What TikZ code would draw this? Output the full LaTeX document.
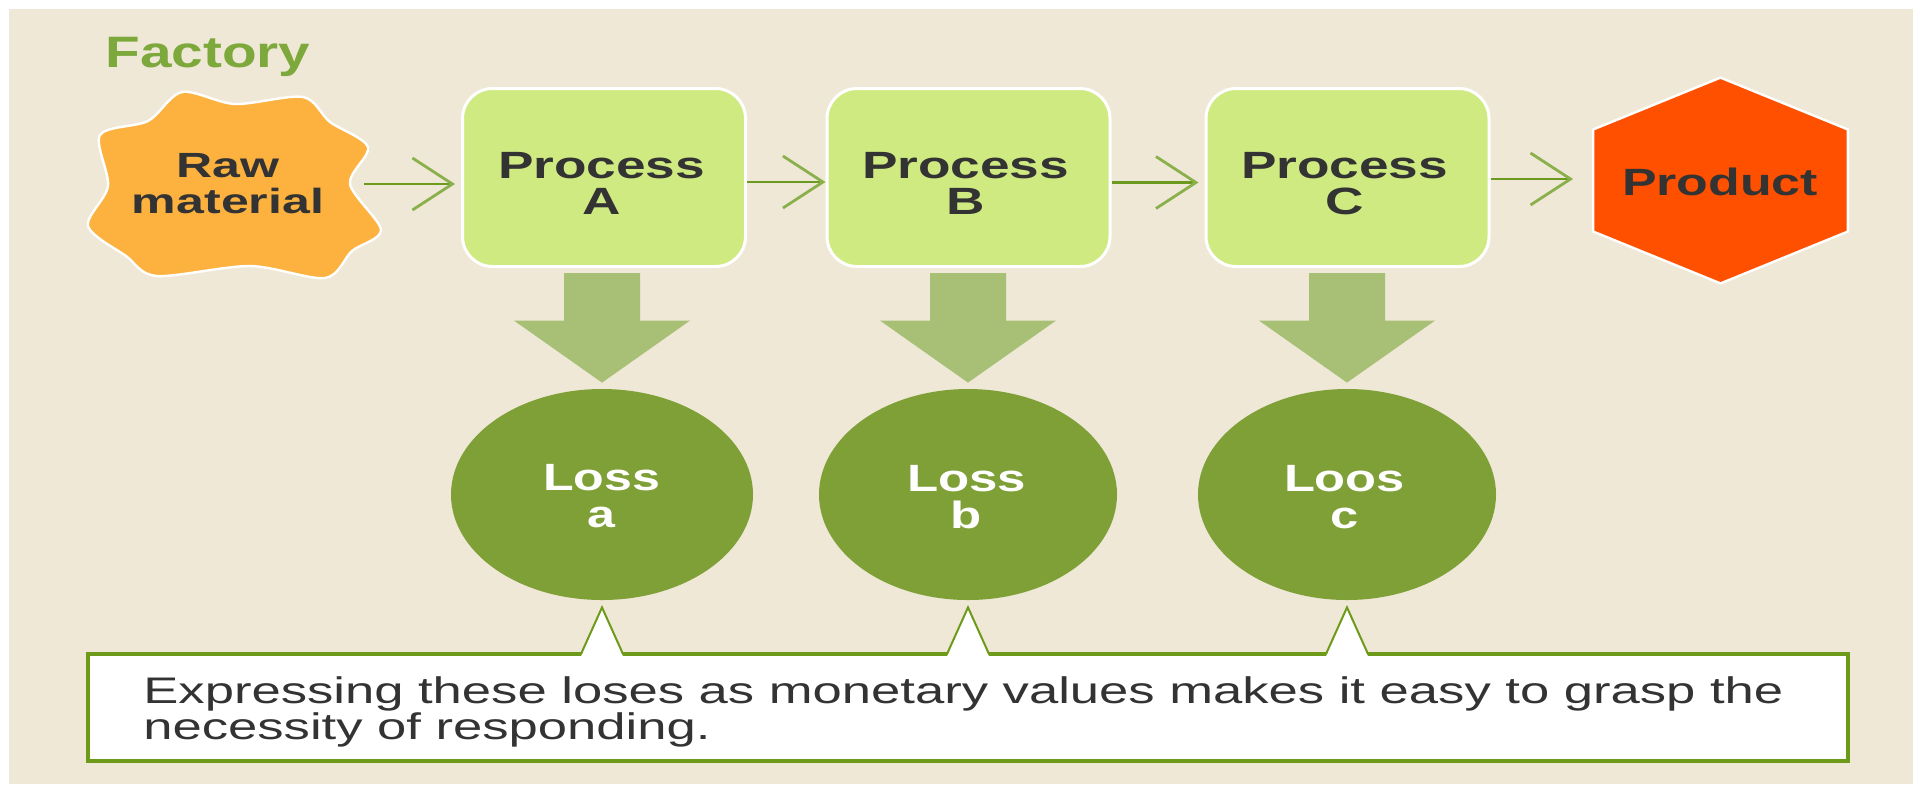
\documentclass[tikz,border=0pt]{standalone}
\usepackage{fontspec}
\setmainfont{Liberation Sans}
\usepackage{graphicx}
\usetikzlibrary{shapes.geometric,arrows.meta,calc}
\definecolor{bg}{HTML}{F0E8D6}
\definecolor{procfill}{HTML}{D0EA82}
\definecolor{shaftc}{HTML}{6B9A1E}
\definecolor{headc}{HTML}{8AB04C}
\definecolor{blockc}{HTML}{A8BF76}
\definecolor{lossfill}{HTML}{7EA037}
\definecolor{prodc}{HTML}{FF5000}
\definecolor{rawc}{HTML}{FDB240}
\definecolor{factc}{HTML}{7DA83C}
\definecolor{notec}{HTML}{6E9A1A}
\definecolor{darktext}{HTML}{333333}
\newsavebox\tlbox
\newcommand\twoline[4]{\sbox\tlbox{#3}\pgfmathsetmacro\tlfac{#1/\the\wd\tlbox}%
  \vtop{\baselineskip=#2\lineskiplimit=-\maxdimen\lineskip=0pt\halign{\hfil##\hfil\cr\scalebox{\tlfac}[1]{#3}\cr\scalebox{\tlfac}[1]{#4}\cr}}}
\newcommand\twolineL[4]{\sbox\tlbox{#3}\pgfmathsetmacro\tlfac{#1/\the\wd\tlbox}%
  \vtop{\baselineskip=#2\lineskiplimit=-\maxdimen\lineskip=0pt\halign{##\hfil\cr\scalebox{\tlfac}[1]{#3}\cr\scalebox{\tlfac}[1]{#4}\cr}}}
\newcommand\blockarrow[2]{\fill[blockc] let \p1=(#1.south), \p2=(#2.north) in
  (\x2-19pt,\y1-2.5pt) -- (\x2+19pt,\y1-2.5pt) -- (\x2+19pt,\y2+34pt) -- (\x2+44pt,\y2+34pt)
  -- (\x2,\y2+3pt) -- (\x2-44pt,\y2+34pt) -- (\x2-19pt,\y2+34pt) -- cycle;}
\newcommand\spike[1]{\fill[white] let \p1=(#1.south), \p2=(note.north) in
  (\x1-10.5pt,\y2-2.2pt) -- (\x1,\y1-3.5pt) -- (\x1+10.5pt,\y2-2.2pt) -- cycle;
  \draw[notec, line width=1pt] let \p1=(#1.south), \p2=(note.north) in
  (\x1-10.5pt,\y2-1pt) -- (\x1,\y1-3.5pt) -- (\x1+10.5pt,\y2-1pt);}
\begin{document}
\begin{tikzpicture}[x=0.5pt,y=-0.5pt,
  procbox/.style={draw=white, line width=1.5pt, fill=procfill, rounded corners=15pt,
    minimum width=141.5pt, minimum height=89pt, inner sep=0pt},
  lossell/.style={ellipse, fill=lossfill, draw=none, minimum height=105.5pt, inner sep=0pt},
  lbl/.style={inner sep=0pt, anchor=base, text=darktext, font=\fontsize{19pt}{18pt}\selectfont\bfseries},
  losslbl/.style={lbl, text=white},
  flow/.style={draw=shaftc, line width=1.4pt, -{Straight Barb[length=20pt,width=26pt,color=headc]}},
  ]
\useasboundingbox (0,0) rectangle (1913,784);
\fill[white] (0,0) rectangle (1913,784);
\fill[bg] (9,9) rectangle (1913,784);

\node[anchor=base west, inner sep=0pt, text=factc, font=\fontsize{22pt}{22pt}\selectfont\bfseries]
  (fact) at (105,67) {\resizebox{102.5pt}{\height}{Factory}};

% raw material blob
\fill[rawc, draw=white, line width=1.2pt] plot[smooth cycle, tension=0.5] coordinates
  {(100,135) (148,121) (182,92) (235,104) (303,97) (330,122) (368,147) (350,184)
   (381,230) (352,251) (325,278) (250,266) (157,276) (126,256) (88,226) (108,186)};
\node[minimum width=129pt, minimum height=95pt, inner sep=0pt] (raw) at (235,184) {};
\node[lbl, font=\fontsize{17.5pt}{18pt}\selectfont\bfseries] (rawT) at (228,177)
  {\twoline{51.5}{18pt}{Raw}{material}};

% process boxes
\node[procbox] (pa) at (604,177.5) {};
\node[procbox] (pb) at (968.5,177.5) {};
\node[procbox] (pc) at (1347.5,177.5) {};
\node[lbl] (paT) at (601.5,178) {\twoline{103.5}{18pt}{Process}{A}};
\node[lbl] (pbT) at (965.5,178) {\twoline{103.5}{18pt}{Process}{B}};
\node[lbl] (pcT) at (1344.5,178) {\twoline{103.5}{18pt}{Process}{C}};

% product
\node[minimum width=127pt, minimum height=102.5pt, inner sep=0pt] (prod) at (1720.5,180.5) {};
\fill[prodc, draw=white, line width=1.2pt] (prod.north) -- ($(prod.east)+(0,25.5pt)$)
  -- ($(prod.east)+(0,-25.5pt)$) -- (prod.south) -- ($(prod.west)+(0,-25.5pt)$)
  -- ($(prod.west)+(0,25.5pt)$) -- cycle;
\node[lbl] (prodT) at (1720,195) {\resizebox{98pt}{\height}{Product}};

% flow arrows
\draw[flow, shorten >=3pt] (raw.east) -- (raw.east -| pa.west);
\draw[flow] ([yshift=-2.25pt]pa.east) -- ([yshift=-2.25pt]pb.west);
\draw[flow, shorten >=3pt] ([yshift=-2.5pt]pb.east) -- ([yshift=-2.5pt]pc.west);
\draw[flow, shorten >=10pt] ([yshift=-0.75pt]pc.east) -- ([yshift=-0.75pt]pc.east -| prod.west);

% losses
\node[lossell, minimum width=151pt] (la) at (602,494.5) {};
\node[lossell, minimum width=149pt] (lb) at (968,494.5) {};
\node[lossell, minimum width=149pt] (lc) at (1347,494.5) {};
\node[losslbl] (laT) at (601.5,490) {\twoline{58.5}{18.5pt}{Loss}{a}};
\node[losslbl] (lbT) at (966.5,491) {\twoline{59.5}{18.5pt}{Loss}{b}};
\node[losslbl] (lcT) at (1344.5,491) {\twoline{60.5}{18.5pt}{Loos}{c}};

% block arrows
\blockarrow{pa}{la}
\blockarrow{pb}{lb}
\blockarrow{pc}{lc}

% note box
\node[draw=notec, line width=2pt, fill=white, minimum width=880pt, minimum height=53.5pt,
  inner sep=0pt] (note) at (968,707.5) {};
\spike{la}
\spike{lb}
\spike{lc}
\node[anchor=base west, inner sep=0pt, text=darktext, font=\fontsize{18.5pt}{18pt}\selectfont]
  (noteT) at (143,703)
  {\twolineL{820}{18pt}{Expressing these loses as monetary values makes it easy to grasp the}{necessity of responding.}};
\end{tikzpicture}
\end{document}
